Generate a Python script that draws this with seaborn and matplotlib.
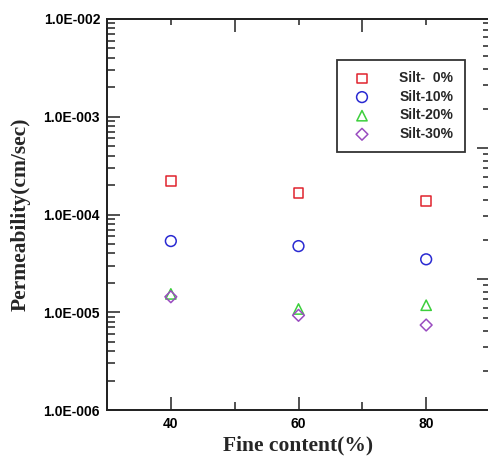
import numpy as np
import pandas as pd
import matplotlib
matplotlib.use("Agg")
import matplotlib.pyplot as plt
import matplotlib.ticker as mticker
import seaborn as sns

# ---- data ----
fine_content = [40, 60, 80]
silt_0 = [2.2e-4, 1.66e-4, 1.37e-4]
silt_10 = [5.35e-5, 4.75e-5, 3.48e-5]
silt_20 = [1.54e-5, 1.08e-5, 1.18e-5]
silt_30 = [1.44e-5, 9.3e-6, 7.4e-6]
series_labels = ["Silt-  0%", "Silt-10%", "Silt-20%", "Silt-30%"]
x_ticks = [40, 60, 80]
y_ticks = [1e-6, 1e-5, 1e-4, 1e-3, 1e-2]
y_tick_labels = ["1.0E-006", "1.0E-005", "1.0E-004", "1.0E-003", "1.0E-002"]

sns.set_style("white")
plt.rcParams["font.family"] = ["Liberation Sans", "DejaVu Sans"]

colors = ["#e0232d", "#2a2ad2", "#3ccf3c", "#9a4cc0"]
markers = ["s", "o", "^", "D"]
sizes = [50, 60, 55, 36]

df = pd.DataFrame({
    "x": fine_content * 4,
    "y": silt_0 + silt_10 + silt_20 + silt_30,
    "series": [s for s in series_labels for _ in fine_content],
})

fig = plt.figure(figsize=(4.88, 4.59), dpi=100)
ax = fig.add_axes([107 / 488, 49 / 459, 383 / 488, 391 / 459])

for lab, c, m, s in zip(series_labels, colors, markers, sizes):
    sub = df[df["series"] == lab]
    sns.scatterplot(data=sub, x="x", y="y", ax=ax, marker=m, s=s,
                    color=c, fc="none", ec=c, linewidth=1.1, label=lab, legend=False, zorder=3)

ax.set_yscale("log")
ax.set_xlim(30, 90)
ax.set_ylim(1e-6, 1e-2)
ax.set_xticks(x_ticks)
ax.set_xticklabels([str(v) for v in x_ticks], fontsize=10, fontweight="bold")
ax.xaxis.set_minor_locator(mticker.FixedLocator([50, 70]))
ax.set_yticks(y_ticks)
ax.set_yticklabels(y_tick_labels, fontsize=10, fontweight="bold")
ax.yaxis.set_minor_locator(mticker.LogLocator(base=10, subs=np.arange(2, 10)))
ax.yaxis.set_minor_formatter(mticker.NullFormatter())

ax.tick_params(axis="both", which="major", direction="in", length=9.5, width=1.1,
               color="#222222", pad=5, labelcolor="black")
ax.tick_params(axis="both", which="minor", direction="in", length=5.5, width=1.1,
               color="#222222")
ax.tick_params(axis="x", top=False, which="both")
ax.tick_params(axis="y", right=False, which="both")

for sp in ax.spines.values():
    sp.set_linewidth(1.1)
    sp.set_color("#222222")

ax.set_xlabel("Fine content(%)", fontsize=15.5, fontweight="bold",
              family=["Liberation Serif", "DejaVu Serif"], labelpad=3)
ax.set_ylabel("Permeability(cm/sec)", fontsize=15.5, fontweight="bold",
              family=["Liberation Serif", "DejaVu Serif"], labelpad=9)

handles, labels = ax.get_legend_handles_labels()

# top ticks (Origin-style, major/minor swapped)
axt = ax.twiny()
axt.set_xlim(30, 90)
axt.set_xticks([50, 70])
axt.xaxis.set_minor_locator(mticker.FixedLocator([40, 60, 80]))
axt.tick_params(axis="x", which="major", direction="in", length=9.5, width=1.1,
                color="#222222", labeltop=False)
axt.tick_params(axis="x", which="minor", direction="in", length=4.5, width=1.1,
                color="#222222")
axt.tick_params(axis="y", left=False, right=False, labelleft=False, labelright=False)

# right axis with its own log scale
axr = ax.twinx()
axr.set_yscale("log")
axr.set_ylim(1e-3, 10 ** (-3 + 391 / 131))
axr.yaxis.set_major_locator(mticker.LogLocator(base=10))
axr.yaxis.set_minor_locator(mticker.LogLocator(base=10, subs=np.arange(2, 10)))
axr.yaxis.set_major_formatter(mticker.NullFormatter())
axr.yaxis.set_minor_formatter(mticker.NullFormatter())
axr.tick_params(axis="y", which="major", direction="in", length=9.5, width=1.1,
                color="#222222", labelright=False)
axr.tick_params(axis="y", which="minor", direction="in", length=5, width=1.1,
                color="#222222")
for a in (axt, axr):
    for sp in a.spines.values():
        sp.set_linewidth(1.1)
        sp.set_color("#222222")
    a.grid(False)

leg = axr.legend(handles, labels, loc="upper left", bbox_to_anchor=(0.6005, 0.895),
                 frameon=True, fancybox=False, shadow=False, borderaxespad=0, borderpad=0.8,
                 handlelength=2.0, handletextpad=1.7, labelspacing=0.33,
                 prop={"weight": "bold", "size": 10}, scatterpoints=1)
leg.get_frame().set_edgecolor("black")
leg.get_frame().set_linewidth(1.3)

fig.savefig("out.png", dpi=100)
